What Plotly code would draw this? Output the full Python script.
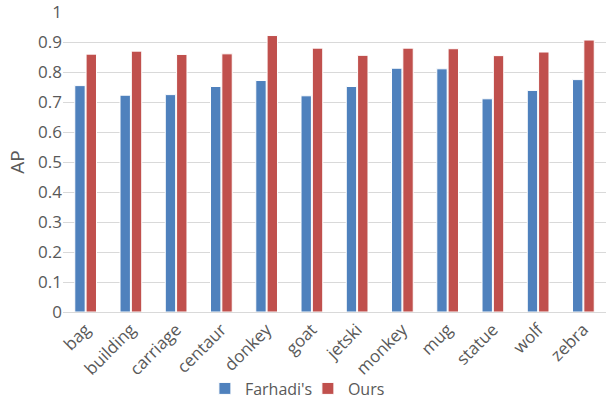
import plotly.graph_objects as go

categories = ["bag", "building", "carriage", "centaur", "donkey", "goat",
              "jetski", "monkey", "mug", "statue", "wolf", "zebra"]
farhadi = [0.755, 0.723, 0.725, 0.752, 0.772, 0.721,
           0.752, 0.813, 0.811, 0.711, 0.739, 0.775]
ours = [0.860, 0.870, 0.859, 0.861, 0.922, 0.880,
        0.856, 0.880, 0.878, 0.855, 0.867, 0.907]
yticks = [i / 10 for i in range(11)]
yticklabels = ["0", "0.1", "0.2", "0.3", "0.4", "0.5", "0.6", "0.7", "0.8", "0.9", "1"]

FONT = "Open Sans"
GRAY = "#595959"

fig = go.Figure()
fig.add_trace(go.Bar(name="Farhadi's", x=categories, y=farhadi,
                     marker=dict(color="#4F81BD", line=dict(color="white", width=1))))
fig.add_trace(go.Bar(name="Ours", x=categories, y=ours,
                     marker=dict(color="#C0504D", line=dict(color="white", width=1))))

fig.update_layout(
    width=607, height=404,
    margin=dict(l=63, r=1, t=12, b=92, autoexpand=False),
    paper_bgcolor="white", plot_bgcolor="white",
    barmode="group", bargap=0.5, bargroupgap=0.08,
    font=dict(family=FONT, color=GRAY, size=16),
    showlegend=True,
    legend=dict(orientation="h", x=0.451, xanchor="center", y=-0.255, yanchor="middle",
                bgcolor="rgba(0,0,0,0)", entrywidth=58, entrywidthmode="pixels",
                font=dict(size=16, color=GRAY), itemwidth=30, traceorder="normal"),
    xaxis=dict(tickangle=-45, showgrid=False, showline=True, linecolor="#D9D9D9",
               linewidth=1, ticks="", tickfont=dict(size=17, color=GRAY),
               automargin=False),
    yaxis=dict(range=[0, 1.0005], tickvals=yticks, ticktext=yticklabels,
               showgrid=True, gridcolor="#D9D9D9", gridwidth=1, zeroline=False,
               ticks="", ticklen=0, tickfont=dict(size=17, color=GRAY), automargin=False,
               title=dict(text="AP", font=dict(size=19, color=GRAY), standoff=8)),
)

fig.write_html("out.html")
